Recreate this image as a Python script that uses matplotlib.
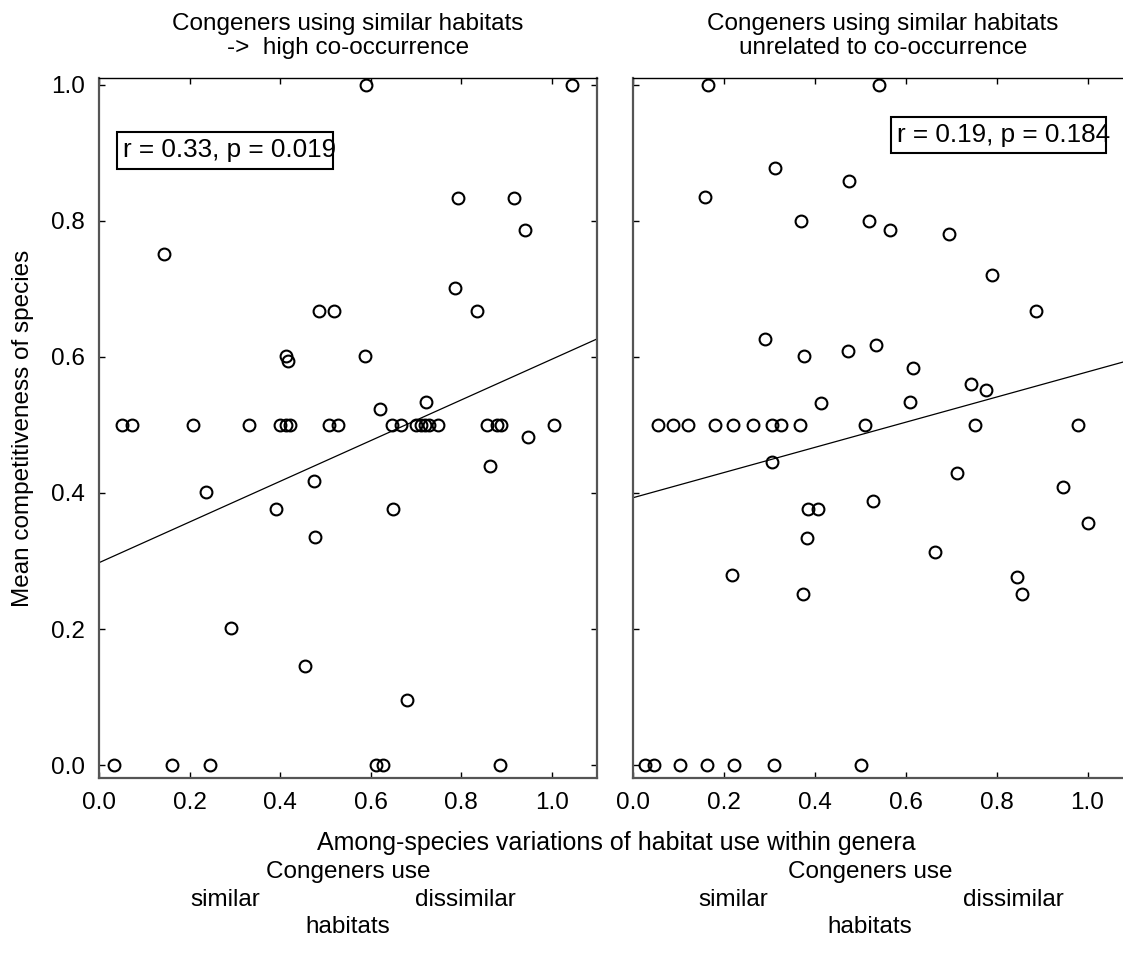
import numpy as np
import matplotlib
matplotlib.use("Agg")
import matplotlib.pyplot as plt
from matplotlib.patches import Rectangle
from matplotlib.ticker import FormatStrFormatter

plt.rcParams['font.family'] = ['Liberation Sans', 'DejaVu Sans']

# left panel: congeners using similar habitats -> high co-occurrence
x_left = [0.143, 0.487, 0.520, 0.414, 0.418,
          0.05, 0.072, 0.208, 0.331, 0.40, 0.414, 0.421, 0.508, 0.528,
          0.237, 0.39, 0.476, 0.478, 0.291, 0.456,
          0.033, 0.162, 0.246,
          0.589, 1.044, 0.794, 0.916, 0.941, 0.786, 0.836, 0.587, 0.621, 0.723,
          0.648, 0.667, 0.700, 0.711, 0.721, 0.730, 0.748, 0.858, 0.880, 0.888, 1.004,
          0.948, 0.864, 0.650, 0.680, 0.611, 0.627, 0.885]
y_left = [0.751, 0.668, 0.668, 0.602, 0.594,
          0.5, 0.5, 0.5, 0.5, 0.5, 0.5, 0.5, 0.5, 0.5,
          0.402, 0.377, 0.418, 0.335, 0.201, 0.145,
          0.0, 0.0, 0.0,
          1.0, 1.0, 0.834, 0.834, 0.787, 0.701, 0.668, 0.602, 0.524, 0.533,
          0.5, 0.5, 0.5, 0.5, 0.5, 0.5, 0.5, 0.5, 0.5, 0.5, 0.5,
          0.482, 0.44, 0.377, 0.096, 0.0, 0.0, 0.0]
fit_left = (0.2975, 0.299)   # intercept, slope
stat_left = "r = 0.33, p = 0.019"

# right panel: congeners using similar habitats unrelated to co-occurrence
x_right = [0.166, 0.542, 0.313, 0.159, 0.476, 0.370, 0.519, 0.291, 0.376, 0.472, 0.534, 0.413,
           0.056, 0.087, 0.122, 0.181, 0.221, 0.263, 0.305, 0.325, 0.368, 0.511, 0.752, 0.980,
           0.565, 0.696, 0.790, 0.886, 0.615, 0.743, 0.776, 0.609,
           0.305, 0.527, 0.386, 0.406, 0.382, 0.217, 0.373,
           0.027, 0.047, 0.104, 0.162, 0.223, 0.310, 0.501,
           0.713, 0.946, 1.001, 0.665, 0.845, 0.856]
y_right = [1.0, 1.0, 0.877, 0.835, 0.859, 0.800, 0.800, 0.627, 0.602, 0.608, 0.617, 0.532,
           0.5, 0.5, 0.5, 0.5, 0.5, 0.5, 0.5, 0.5, 0.5, 0.5, 0.5, 0.5,
           0.787, 0.780, 0.721, 0.668, 0.584, 0.560, 0.551, 0.533,
           0.446, 0.388, 0.377, 0.377, 0.334, 0.279, 0.251,
           0.0, 0.0, 0.0, 0.0, 0.0, 0.0, 0.0,
           0.430, 0.409, 0.356, 0.313, 0.276, 0.251]
fit_right = (0.393, 0.185)
stat_right = "r = 0.19, p = 0.184"

ticks = [0.0, 0.2, 0.4, 0.6, 0.8, 1.0]
titles = ["Congeners using similar habitats\n->  high co-occurrence",
          "Congeners using similar habitats\nunrelated to co-occurrence"]

FS = 17.5
W, H = 1123, 971
fig = plt.figure(figsize=(W / 100, H / 100), dpi=100)

ax_l = fig.add_axes([99 / W, (H - 778) / H, 498 / W, 700 / H])
ax_r = fig.add_axes([633 / W, (H - 778) / H, 500 / W, 700 / H])


def style_axis(ax, show_ylabels):
    ax.set_xlim(0, 1.1)
    ax.set_ylim(-0.019, 1.01)
    ax.set_xticks(ticks)
    ax.set_yticks(ticks)
    ax.xaxis.set_major_formatter(FormatStrFormatter('%.1f'))
    ax.yaxis.set_major_formatter(FormatStrFormatter('%.1f'))
    ax.tick_params(direction='in', length=4, width=1, top=True, right=True,
                   labelsize=FS, pad=10, colors='black')
    if not show_ylabels:
        ax.tick_params(labelleft=False)
    for side in ['left', 'bottom', 'right']:
        ax.spines[side].set_color('#555555')
        ax.spines[side].set_linewidth(1.6)
    ax.spines['top'].set_color('black')
    ax.spines['top'].set_linewidth(1.0)


panels = [(ax_l, x_left, y_left, fit_left, stat_left, (0.04, 0.876, 0.477, 0.055)),
          (ax_r, x_right, y_right, fit_right, stat_right, (0.568, 0.900, 0.472, 0.053))]

for i, (ax, xs, ys, fit, stat, box) in enumerate(panels):
    style_axis(ax, i == 0)
    ax.plot(xs, ys, 'o', mfc='none', mec='black', ms=8.5, mew=1.5, zorder=3)
    xl = np.array([0.0, 1.1])
    ax.plot(xl, fit[0] + fit[1] * xl, color='black', lw=0.9, zorder=2)
    ax.add_patch(Rectangle((box[0], box[1]), box[2], box[3], fill=False,
                           edgecolor='black', lw=1.5, zorder=4, clip_on=False))
    ax.text(box[0] + 0.013, box[1] + box[3] / 2, stat, fontsize=FS + 1.3,
            va='center', ha='left', zorder=5)
    ax.set_title(titles[i], fontsize=FS, pad=17, linespacing=1.15)

ax_l.set_ylabel('Mean competitiveness of species', fontsize=FS, labelpad=12)

fig.text(616 / W, 1 - 843 / H, 'Among-species variations of habitat use within genera',
         fontsize=FS + 0.5, ha='center', va='center')

# habitat use annotations under each panel
for cx, lx, rx in [(348, 225, 465), (870, 733, 1013)]:
    fig.text(cx / W, 1 - 872 / H, 'Congeners use', fontsize=FS, ha='center', va='center')
    fig.text(lx / W, 1 - 900 / H, 'similar', fontsize=FS, ha='center', va='center')
    fig.text(rx / W, 1 - 900 / H, 'dissimilar', fontsize=FS, ha='center', va='center')
    fig.text(cx / W, 1 - 927 / H, 'habitats', fontsize=FS, ha='center', va='center')

fig.savefig('out.png', dpi=100)
